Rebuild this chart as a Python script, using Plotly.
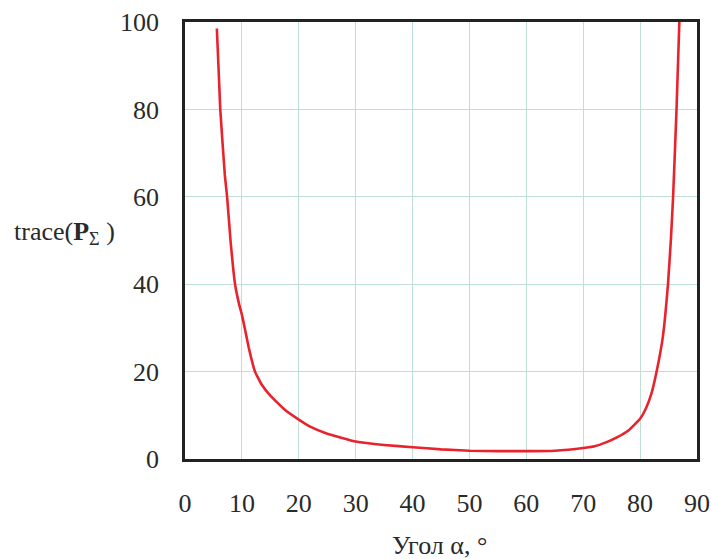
import plotly.graph_objects as go

# Angle alpha, degrees
alpha = [5.6, 6.2, 7.0, 7.4, 8.0, 8.8, 9.5, 10.0, 10.5, 11.2, 12.3, 13.5, 15.0, 17.5, 20.0,
         22.0, 25.0, 30.0, 35.0, 40.0, 45.0, 50.0, 55.0, 60.0, 65.0, 70.0, 72.0,
         74.0, 76.0, 78.0, 80.0, 81.0, 82.0, 82.9, 84.0, 84.9, 85.4, 85.8, 86.4, 86.9]
# trace(P_Sigma)
trace_p = [98.5, 80.0, 65.0, 60.0, 50.0, 40.0, 35.5, 33.0, 30.0, 25.5, 20.0, 17.0, 14.5, 11.3, 9.0,
           7.4, 5.8, 4.0, 3.2, 2.7, 2.2, 1.9, 1.8, 1.8, 1.9, 2.5, 2.9,
           3.8, 5.0, 6.6, 9.2, 11.5, 15.0, 20.0, 28.0, 40.0, 50.0, 60.0, 80.0, 100.0]

x_ticks = [0, 10, 20, 30, 40, 50, 60, 70, 80, 90]
y_ticks = [0, 20, 40, 60, 80, 100]

FONT = "Liberation Serif"
TXT = "#2a2a2a"
GRID = "#bfe0d2"

fig = go.Figure()
fig.add_trace(go.Scatter(
    x=alpha, y=trace_p, mode="lines",
    line=dict(color="#e8232d", width=2.6, shape="spline", smoothing=0.3),
    showlegend=False, cliponaxis=True,
))

axis_common = dict(
    showline=True, mirror=True, linecolor="#222222", linewidth=2.6,
    showgrid=True, gridcolor=GRID, gridwidth=1,
    zeroline=False, ticks="", automargin=False,
    tickfont=dict(family=FONT, size=26, color=TXT),
)

fig.update_xaxes(range=[0, 90], tickvals=x_ticks, ticklabelstandoff=19, **axis_common)
fig.update_yaxes(range=[0, 100], tickvals=y_ticks, ticklabelstandoff=18, **axis_common)

fig.add_annotation(
    xref="paper", yref="paper", x=-0.338, y=0.517, xanchor="left", yanchor="middle",
    text="trace(<b>P</b><sub>Σ</sub> )", showarrow=False,
    font=dict(family=FONT, size=26, color=TXT),
)
fig.add_annotation(
    xref="paper", yref="paper", x=0.498, y=-0.197, xanchor="center", yanchor="middle",
    text="Угол α, °", showarrow=False,
    font=dict(family=FONT, size=26, color=TXT),
)

fig.update_layout(
    width=711, height=559,
    margin=dict(l=185, r=14, t=22, b=100),
    paper_bgcolor="white", plot_bgcolor="white",
)

fig.write_html("out.html", config={"displayModeBar": False},
               post_script="document.body.style.margin='0';document.body.style.padding='0';")
